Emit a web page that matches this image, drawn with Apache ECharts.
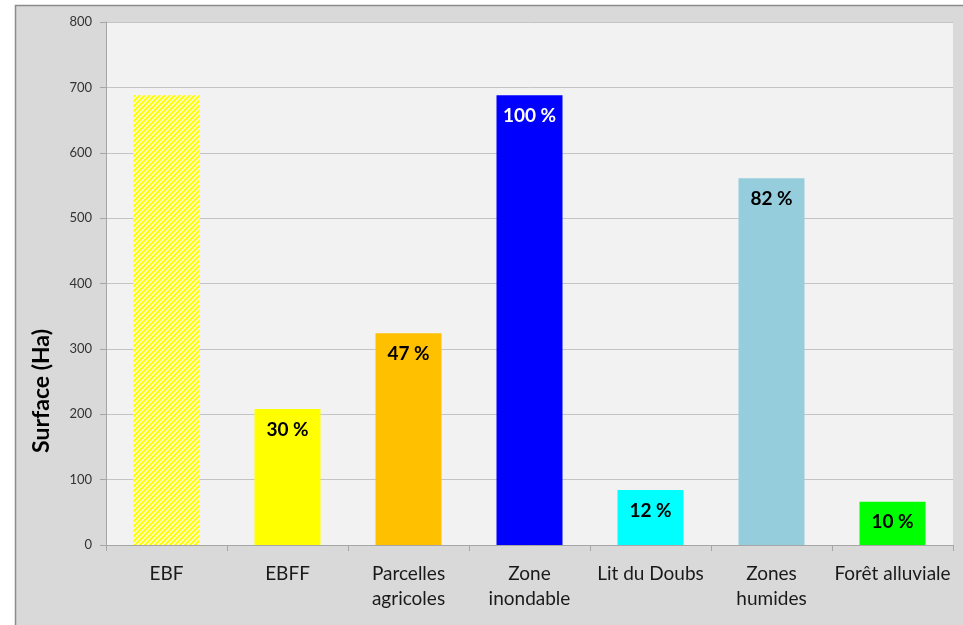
<!DOCTYPE html>
<html>
<head>
<meta charset="utf-8">
<script src="https://cdn.jsdelivr.net/npm/echarts@6/dist/echarts.min.js"></script>
<style>
html,body{margin:0;padding:0;background:#ffffff;}
#chart{width:963px;height:625px;}
</style>
</head>
<body>
<div id="chart"></div>
<script>
const categories = ['EBF', 'EBFF', 'Parcelles\nagricoles', 'Zone\ninondable', 'Lit du Doubs', 'Zones\nhumides', 'Forêt alluviale'];
const surfaces = [688, 208, 324, 688, 84, 561, 66];
const percentLabels = ['', '30 %', '47 %', '100 %', '12 %', '82 %', '10 %'];
const barColors = ['hatch', '#ffff00', '#ffc000', '#0000ff', '#00ffff', '#96cddd', '#00ff00'];
const labelColors = ['#000000', '#000000', '#000000', '#ffffff', '#000000', '#000000', '#000000'];
const yTicks = [0, 100, 200, 300, 400, 500, 600, 700, 800];

function hatchPattern() {
  const c = document.createElement('canvas');
  c.width = 5; c.height = 5;
  const ctx = c.getContext('2d');
  ctx.fillStyle = '#fbfbe0';
  ctx.fillRect(0, 0, 5, 5);
  ctx.strokeStyle = '#ffff00';
  ctx.lineWidth = 2;
  ctx.beginPath();
  ctx.moveTo(-1, 6); ctx.lineTo(6, -1);
  ctx.moveTo(-1, 1); ctx.lineTo(1, -1);
  ctx.moveTo(4, 6); ctx.lineTo(6, 4);
  ctx.stroke();
  return { image: c, repeat: 'repeat' };
}

const FONT = 'Lato, "Open Sans", sans-serif';
const chart = echarts.init(document.getElementById('chart'));
const data = surfaces.map((v, i) => ({
  value: v,
  itemStyle: { color: barColors[i] === 'hatch' ? hatchPattern() : barColors[i] },
  label: {
    show: percentLabels[i] !== '',
    color: labelColors[i]
  }
}));

chart.setOption({
  backgroundColor: '#ffffff',
  animation: false,
  graphic: [
    {
      type: 'rect', z: -100,
      shape: { x: 15.5, y: 5.5, width: 960, height: 630 },
      style: { fill: '#d9d9d9', stroke: '#8c8c8c', lineWidth: 1.5 }
    },
    {
      type: 'text', z: 10,
      x: 42, y: 391, rotation: Math.PI / 2,
      style: {
        text: 'Surface (Ha)',
        font: 'bold 23px ' + FONT,
        fill: '#000000',
        textAlign: 'center',
        textVerticalAlign: 'middle'
      }
    }
  ],
  grid: {
    left: 106, right: 10, top: 22, bottom: 80,
    show: true, backgroundColor: '#f2f2f2', borderWidth: 0
  },
  xAxis: {
    type: 'category',
    data: categories,
    axisLine: { lineStyle: { color: '#a6a6a6', width: 1 } },
    axisTick: { show: true, length: 6, lineStyle: { color: '#a6a6a6' } },
    axisLabel: {
      color: '#1a1a1a', fontFamily: FONT, fontSize: 19,
      lineHeight: 25, margin: 16, interval: 0
    }
  },
  yAxis: {
    type: 'value',
    min: yTicks[0], max: yTicks[yTicks.length - 1], interval: 100,
    axisLine: { show: true, lineStyle: { color: '#a6a6a6' } },
    axisTick: { show: true, length: 6, lineStyle: { color: '#a6a6a6' } },
    splitLine: { lineStyle: { color: '#c4c4c4', width: 1 } },
    axisLabel: { color: '#333333', fontFamily: FONT, fontSize: 13, margin: 14 }
  },
  series: [{
    type: 'bar',
    data: data,
    barWidth: 66,
    label: {
      show: true,
      position: 'insideTop',
      distance: 11,
      fontFamily: FONT,
      fontWeight: 'bold',
      fontSize: 19,
      formatter: p => percentLabels[p.dataIndex]
    }
  }]
});
</script>
</body>
</html>
